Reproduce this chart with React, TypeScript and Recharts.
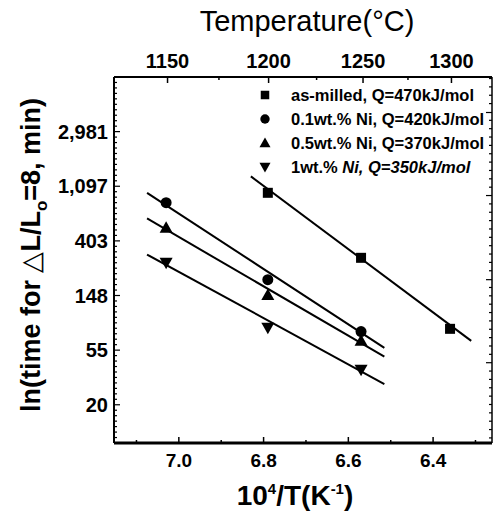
import { ComposedChart, XAxis, YAxis, Scatter, ReferenceLine, Legend } from 'recharts';

const FONT = '"Liberation Sans", Arial, Helvetica, sans-serif';

// 10^4/T positions of the measurements
const asMilledX = [6.79, 6.57, 6.36];
const asMilledY = [6.88, 5.69, 4.39];
const ni01X = [7.03, 6.79, 6.57];
const ni01Y = [6.7, 5.29, 4.34];
const ni05X = [7.03, 6.79, 6.57];
const ni05Y = [6.24, 5.01, 4.17];
const ni1X = [7.03, 6.79, 6.57];
const ni1Y = [5.6, 4.41, 3.64];

// fitted lines, [x, y] end points
const asMilledFit = [[6.83, 7.18], [6.31, 4.17]];
const ni01Fit = [[7.075, 6.88], [6.515, 4.04]];
const ni05Fit = [[7.075, 6.41], [6.515, 3.88]];
const ni1Fit = [[7.075, 5.75], [6.515, 3.38]];

const xMajor = [7.0, 6.8, 6.6, 6.4];
const xMinor = [7.1, 6.9, 6.7, 6.5, 6.3];
const tempMajor = [1150, 1200, 1250, 1300];
const tempMinor = [1175, 1225, 1275];
const yMajor = [3, 4, 5, 6, 7, 8];
const yLabels = ['20', '55', '148', '403', '1,097', '2,981'];
const rightMajor = [3.77, 5.29, 6.83, 8.35];

const X_DOMAIN = [6.261, 7.153];
const Y_DOMAIN = [2.3, 9.0];

const toInv = (t: number) => 10000 / (t + 273.15);

const leftMinor: number[] = [];
for (let v = 2.4; v < 9.0; v += 0.1) {
  if (Math.abs(v - Math.round(v)) > 0.01) leftMinor.push(+v.toFixed(2));
}
const rightMinor: number[] = [];
for (let v = 3.77 - 0.153 * 9; v < 9.0; v += 0.153) {
  if (!rightMajor.some((m) => Math.abs(m - v) < 0.02)) rightMinor.push(+v.toFixed(3));
}

const toPts = (xs: number[], ys: number[]) => xs.map((x, i) => ({ x, y: ys[i] }));

const series = [
  { key: 'asMilled', kind: 'square', data: toPts(asMilledX, asMilledY), fit: asMilledFit, label: ['as-milled, Q=470kJ/mol', ''] },
  { key: 'ni01', kind: 'circle', data: toPts(ni01X, ni01Y), fit: ni01Fit, label: ['0.1wt.% Ni, Q=420kJ/mol', ''] },
  { key: 'ni05', kind: 'triangle', data: toPts(ni05X, ni05Y), fit: ni05Fit, label: ['0.5wt.% Ni, Q=370kJ/mol', ''] },
  { key: 'ni1', kind: 'down', data: toPts(ni1X, ni1Y), fit: ni1Fit, label: ['1wt.% ', 'Ni, Q=350kJ/mol'] },
];

const near = (arr: number[], v: number) => arr.findIndex((a) => Math.abs(a - v) < 1e-4);

function Marker({ cx, cy, kind, s = 1 }: any) {
  if (cx == null || cy == null) return null;
  if (kind === 'square') return <rect x={cx - 5 * s} y={cy - 5 * s} width={10 * s} height={10 * s} fill="#000" />;
  if (kind === 'circle') return <circle cx={cx} cy={cy} r={5.5 * s} fill="#000" />;
  if (kind === 'triangle')
    return <polygon points={`${cx},${cy - 6.5 * s} ${cx + 6.5 * s},${cy + 5 * s} ${cx - 6.5 * s},${cy + 5 * s}`} fill="#000" />;
  return <polygon points={`${cx},${cy + 6.5 * s} ${cx + 6.5 * s},${cy - 5 * s} ${cx - 6.5 * s},${cy - 5 * s}`} fill="#000" />;
}

function BottomTick({ x, y, payload }: any) {
  const i = near(xMajor, payload.value);
  return (
    <g>
      <line x1={x} x2={x} y1={y} y2={y - (i >= 0 ? 6 : 3)} stroke="#000" strokeWidth={1.5} />
      {i >= 0 && (
        <text x={x} y={y + 24} textAnchor="middle" fontFamily={FONT} fontWeight="bold" fontSize={19} fill="#000">
          {xMajor[i].toFixed(1)}
        </text>
      )}
    </g>
  );
}

const topMajorPos = tempMajor.map(toInv);
const topMinorPos = tempMinor.map(toInv);

function TopTick({ x, y, payload }: any) {
  const i = near(topMajorPos, payload.value);
  return (
    <g>
      <line x1={x} x2={x} y1={y} y2={y + (i >= 0 ? 6 : 3)} stroke="#000" strokeWidth={1.5} />
      {i >= 0 && (
        <text x={x} y={y - 9} textAnchor="middle" fontFamily={FONT} fontWeight="bold" fontSize={20} fill="#000">
          {tempMajor[i]}
        </text>
      )}
    </g>
  );
}

function LeftTick({ x, y, payload }: any) {
  const i = near(yMajor, payload.value);
  return (
    <g>
      <line x1={x} x2={x + (i >= 0 ? 6 : 3)} y1={y} y2={y} stroke="#000" strokeWidth={1.2} />
      {i >= 0 && (
        <text x={x - 6} y={y} dy="0.36em" textAnchor="end" fontFamily={FONT} fontWeight="bold" fontSize={20} fill="#000">
          {yLabels[i]}
        </text>
      )}
    </g>
  );
}

function RightTick({ x, y, payload }: any) {
  const major = near(rightMajor, payload.value) >= 0;
  return <line x1={x} x2={x - (major ? 6 : 3)} y1={y} y2={y} stroke="#000" strokeWidth={1.2} />;
}

function TopTitle() {
  return (
    <text x={307} y={31} textAnchor="middle" fontFamily={FONT} fontSize={29} fill="#000">
      Temperature(°C)
    </text>
  );
}

function BottomTitle() {
  return (
    <text x={295} y={505} textAnchor="middle" fontFamily={FONT} fontWeight="bold" fontSize={28} fill="#000">
      10<tspan dy={-11} fontSize={15}>4</tspan>
      <tspan dy={11}>/T(K</tspan>
      <tspan dy={-11} fontSize={15}>-1</tspan>
      <tspan dy={11}>)</tspan>
    </text>
  );
}

function LeftTitle() {
  return (
    <text
      x={40}
      y={255}
      transform="rotate(-90 40 255)"
      textAnchor="middle"
      fontFamily={FONT}
      fontWeight="bold"
      fontSize={27}
      fill="#000"
    >
      ln(time for <tspan fontWeight="normal">△</tspan>L/L<tspan dy={7} fontSize={17}>o</tspan>
      <tspan dy={-7}>=8, min)</tspan>
    </text>
  );
}

function LegendBox() {
  return (
    <div style={{ fontFamily: FONT, fontWeight: 'bold', fontSize: 16.5, color: '#000' }}>
      {series.map((s) => (
        <div key={s.key} style={{ display: 'flex', alignItems: 'center', height: 24, whiteSpace: 'nowrap' }}>
          <svg width={16} height={16} style={{ marginRight: 18 }}>
            <Marker cx={8} cy={8} kind={s.kind} s={0.85} />
          </svg>
          <span>
            {s.label[0]}
            {s.label[1] && <i>{s.label[1]}</i>}
          </span>
        </div>
      ))}
    </div>
  );
}

export default function App() {
  return (
    <div style={{ position: 'absolute', left: 0, top: 0, width: 497, height: 518, background: '#fff' }}>
      <ComposedChart width={497} height={518} margin={{ top: 0, right: 0, bottom: 0, left: 0 }}>
        <XAxis
          xAxisId="bottom"
          type="number"
          dataKey="x"
          domain={X_DOMAIN}
          reversed
          allowDataOverflow
          ticks={[...xMajor, ...xMinor]}
          interval={0}
          tickSize={0}
          tickMargin={0}
          tickLine={false}
          tick={<BottomTick />}
          axisLine={{ stroke: '#000', strokeWidth: 3 }}
          height={75}
          label={<BottomTitle />}
        />
        <XAxis
          xAxisId="top"
          orientation="top"
          type="number"
          dataKey="x"
          domain={X_DOMAIN}
          reversed
          allowDataOverflow
          ticks={[...topMajorPos, ...topMinorPos]}
          interval={0}
          tickSize={0}
          tickMargin={0}
          tickLine={false}
          tick={<TopTick />}
          axisLine={{ stroke: '#000', strokeWidth: 2 }}
          height={77}
          label={<TopTitle />}
        />
        <YAxis
          yAxisId="left"
          type="number"
          dataKey="y"
          domain={Y_DOMAIN}
          allowDataOverflow
          ticks={[...yMajor, ...leftMinor]}
          interval={0}
          tickSize={0}
          tickMargin={0}
          tickLine={false}
          tick={<LeftTick />}
          axisLine={{ stroke: '#000', strokeWidth: 2 }}
          width={114}
          label={<LeftTitle />}
        />
        <YAxis
          yAxisId="right"
          orientation="right"
          type="number"
          dataKey="y"
          domain={Y_DOMAIN}
          allowDataOverflow
          ticks={[...rightMajor, ...rightMinor]}
          interval={0}
          tickSize={0}
          tickMargin={0}
          tickLine={false}
          tick={<RightTick />}
          axisLine={{ stroke: '#000', strokeWidth: 1.5 }}
          width={5}
        />
        {series.map((s) => (
          <ReferenceLine
            key={`fit-${s.key}`}
            xAxisId="bottom"
            yAxisId="left"
            segment={[
              { x: s.fit[0][0], y: s.fit[0][1] },
              { x: s.fit[1][0], y: s.fit[1][1] },
            ]}
            stroke="#000"
            strokeWidth={2}
            ifOverflow="visible"
          />
        ))}
        {series.map((s) => (
          <Scatter
            key={s.key}
            name={s.key}
            xAxisId="bottom"
            yAxisId="left"
            data={s.data}
            isAnimationActive={false}
            shape={(p: any) => <Marker cx={p.cx} cy={p.cy} kind={s.kind} />}
          />
        ))}
        <Legend
          layout="vertical"
          align="center"
          verticalAlign="middle"
          wrapperStyle={{ left: 257, top: 83, width: 240 }}
          content={() => <LegendBox />}
        />
      </ComposedChart>
    </div>
  );
}
